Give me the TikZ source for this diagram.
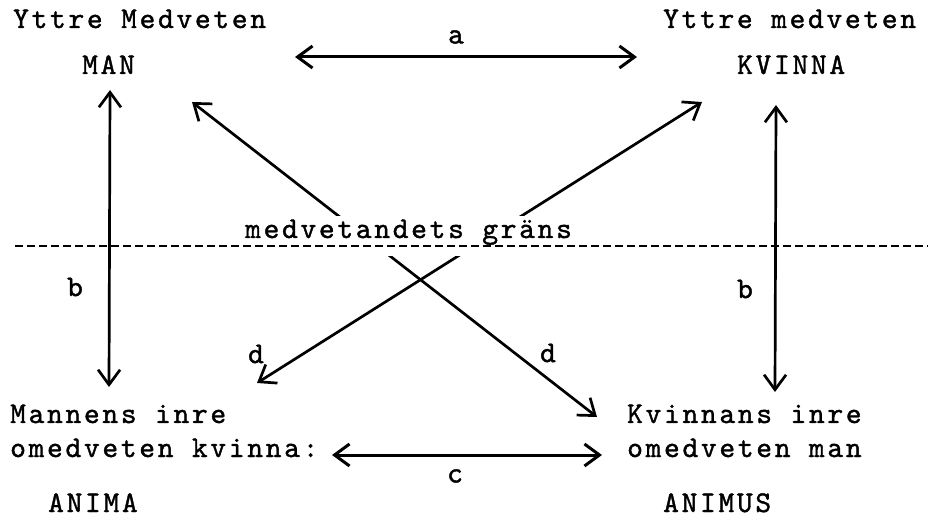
\documentclass[tikz,border=0pt]{standalone}
\usepackage{fontspec}
\newfontfamily\tw{lmmono10-regular.otf}[LetterSpace=9, FakeBold=1.3]
\newfontfamily\twl{lmmono10-regular.otf}[FakeBold=1.3]
\usetikzlibrary{arrows.meta}
\tikzset{
  txt/.style={font=\tw\fontsize{30pt}{30pt}\selectfont, inner sep=0pt, anchor=base west},
  lbl/.style={font=\twl\fontsize{30pt}{30pt}\selectfont, inner sep=0pt},
  conn/.style={line width=2.7pt, {Straight Barb[length=15pt,width=22pt]}-{Straight Barb[length=15pt,width=22pt]}},
  border/.style={line width=2.5pt, dash pattern=on 8pt off 4pt}
}
\begin{document}
\begin{tikzpicture}[x=1pt,y=-1pt]
\useasboundingbox (0,0) rectangle (948,518);
% connector ends
\coordinate (a1) at (295,57);
\coordinate (a2) at (637,57);
\coordinate (bl1) at (110,90);
\coordinate (bl2) at (109,387);
\coordinate (br1) at (776,105);
\coordinate (br2) at (775,392);
\coordinate (c1) at (332,455);
\coordinate (c2) at (602,455);
\coordinate (d1a) at (192,102);
\coordinate (d1b) at (597,417);
\coordinate (d2a) at (702,102);
\coordinate (d2b) at (257,383);
\coordinate (g1) at (15,246);
\coordinate (g2) at (928,246);
% diagonals (drawn first, interrupted by the border text)
\draw[conn] (d1a) -- (d1b);
\draw[conn] (d2a) -- (d2b);
% texts
\node[txt] (ym) at (13,28) {Yttre Medveten};
\node[txt] (man) at (82,74) {MAN};
\node[txt] (yk) at (663,28) {Yttre medveten};
\node[txt] (kv) at (737,74) {KVINNA};
\node[txt] (mi1) at (10,423) {Mannens inre};
\node[txt] (mi2) at (10,457) {omedveten kvinna:};
\node[txt] (anima) at (48,512) {ANIMA};
\node[txt] (ki1) at (627,423) {Kvinnans inre};
\node[txt] (ki2) at (627,457) {omedveten man};
\node[txt] (animus) at (663,512) {ANIMUS};
\node[txt, fill=white, text height=22pt, text depth=18pt] (grans) at (245,238) {medvetandets gräns};
% border line
\draw[border] (g1) -- (g2);
% other connectors
\draw[conn, line width=3pt] (a1) -- (a2);
\draw[conn] (bl1) -- (bl2);
\draw[conn] (br1) -- (br2);
\draw[conn, line width=3pt] (c1) -- (c2);
% labels
\node[lbl] (la) at (456,37) {a};
\node[lbl] (lb1) at (75,287) {b};
\node[lbl] (lb2) at (745,289) {b};
\node[lbl] (lc) at (455,476) {c};
\node[lbl] (ld1) at (256,354) {d};
\node[lbl] (ld2) at (548,353) {d};
\end{tikzpicture}
\end{document}
